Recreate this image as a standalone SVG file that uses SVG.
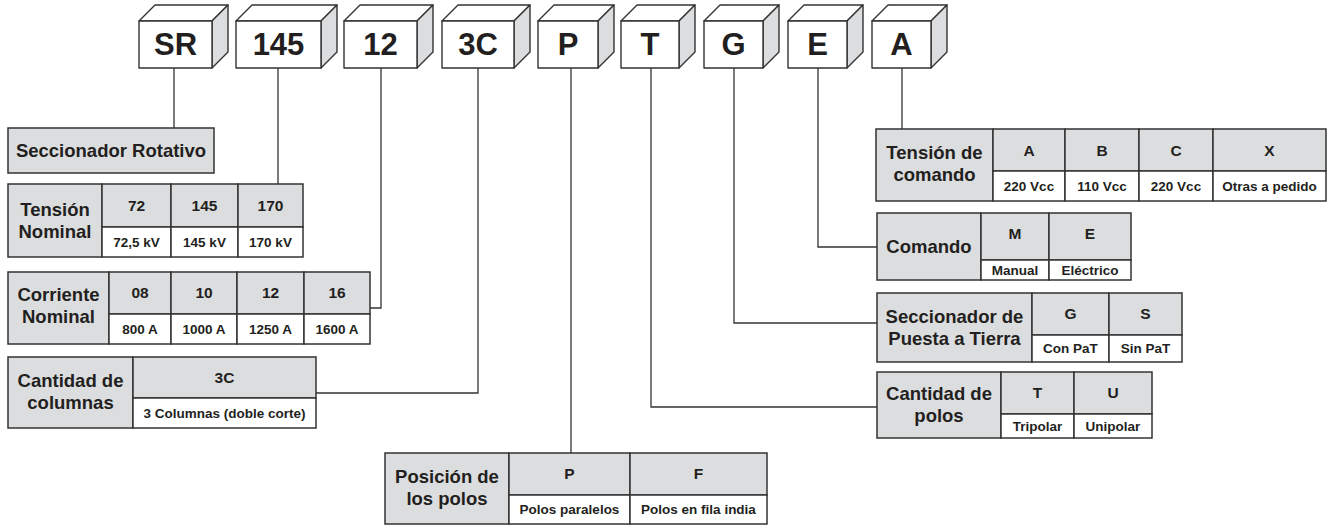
<svg xmlns="http://www.w3.org/2000/svg" width="1328" height="526" viewBox="0 0 1328 526">
<style>
text{font-family:"Liberation Sans",Arial,sans-serif;font-weight:bold;fill:#231f20;text-anchor:middle}
.front,.top{fill:#fff;stroke:#333;stroke-width:1.4;stroke-linejoin:round}
.side{fill:#dcdddf;stroke:#333;stroke-width:1.4;stroke-linejoin:round}
.big{font-size:31px}
.g{fill:#dcdddf;stroke:#333;stroke-width:1.5}
.w{fill:#fff;stroke:#333;stroke-width:1.5}
.t{font-size:18.5px}
.c{font-size:15.5px}
.l{font-size:13.5px}
.conn{fill:none;stroke:#333;stroke-width:1.3}
</style>

<g id="connectors">
<path class="conn" d="M174 68V128"/>
<path class="conn" d="M278 68V184"/>
<path class="conn" d="M381 68V308H370"/>
<path class="conn" d="M478 68V393H316"/>
<path class="conn" d="M571 68V453"/>
<path class="conn" d="M651 68V407H877"/>
<path class="conn" d="M734 68V323H877"/>
<path class="conn" d="M818 68V247H877"/>
<path class="conn" d="M902 68V129"/>
</g>

<g id="box-SR"><polygon class="top" points="139,21 212,21 228,5 155,5"/><polygon class="side" points="212,21 228,5 228,52 212,68"/><rect class="front" x="139" y="21" width="73" height="47"/><text class="big" x="175.5" y="55">SR</text></g>
<g id="box-145"><polygon class="top" points="236,21 321,21 337,5 252,5"/><polygon class="side" points="321,21 337,5 337,52 321,68"/><rect class="front" x="236" y="21" width="85" height="47"/><text class="big" x="278.5" y="55">145</text></g>
<g id="box-12"><polygon class="top" points="344,21 417,21 433,5 360,5"/><polygon class="side" points="417,21 433,5 433,52 417,68"/><rect class="front" x="344" y="21" width="73" height="47"/><text class="big" x="380.5" y="55">12</text></g>
<g id="box-3C"><polygon class="top" points="442,21 514,21 530,5 458,5"/><polygon class="side" points="514,21 530,5 530,52 514,68"/><rect class="front" x="442" y="21" width="72" height="47"/><text class="big" x="478" y="55">3C</text></g>
<g id="box-P"><polygon class="top" points="538,21 598,21 614,5 554,5"/><polygon class="side" points="598,21 614,5 614,52 598,68"/><rect class="front" x="538" y="21" width="60" height="47"/><text class="big" x="568" y="55">P</text></g>
<g id="box-T"><polygon class="top" points="621,21 679,21 695,5 637,5"/><polygon class="side" points="679,21 695,5 695,52 679,68"/><rect class="front" x="621" y="21" width="58" height="47"/><text class="big" x="650" y="55">T</text></g>
<g id="box-G"><polygon class="top" points="704,21 763,21 779,5 720,5"/><polygon class="side" points="763,21 779,5 779,52 763,68"/><rect class="front" x="704" y="21" width="59" height="47"/><text class="big" x="733.5" y="55">G</text></g>
<g id="box-E"><polygon class="top" points="788,21 847,21 863,5 804,5"/><polygon class="side" points="847,21 863,5 863,52 847,68"/><rect class="front" x="788" y="21" width="59" height="47"/><text class="big" x="817.5" y="55">E</text></g>
<g id="box-A"><polygon class="top" points="872,21 931,21 947,5 888,5"/><polygon class="side" points="931,21 947,5 947,52 931,68"/><rect class="front" x="872" y="21" width="59" height="47"/><text class="big" x="901.5" y="55">A</text></g>

<g id="seccionador-rotativo"><rect class="g" x="8" y="128" width="206" height="45"/><text class="t" x="111" y="157">Seccionador Rotativo</text></g>

<g id="tension-nominal">
<rect class="g" x="8" y="184" width="94" height="73"/>
<rect class="g" x="102" y="184" width="69" height="43"/><rect class="g" x="171" y="184" width="67" height="43"/><rect class="g" x="238" y="184" width="65" height="43"/>
<rect class="w" x="102" y="227" width="69" height="30"/><rect class="w" x="171" y="227" width="67" height="30"/><rect class="w" x="238" y="227" width="65" height="30"/>
<text class="t" x="55" y="216">Tensión</text><text class="t" x="55" y="238">Nominal</text>
<text class="c" x="136.5" y="211">72</text><text class="c" x="204.5" y="211">145</text><text class="c" x="270.5" y="211">170</text>
<text class="l" x="136.5" y="247">72,5 kV</text><text class="l" x="204.5" y="247">145 kV</text><text class="l" x="270.5" y="247">170 kV</text>
</g>

<g id="corriente-nominal">
<rect class="g" x="8" y="272" width="101" height="72"/>
<rect class="g" x="109" y="272" width="62" height="42"/><rect class="g" x="171" y="272" width="66" height="42"/><rect class="g" x="237" y="272" width="67" height="42"/><rect class="g" x="304" y="272" width="66" height="42"/>
<rect class="w" x="109" y="314" width="62" height="30"/><rect class="w" x="171" y="314" width="66" height="30"/><rect class="w" x="237" y="314" width="67" height="30"/><rect class="w" x="304" y="314" width="66" height="30"/>
<text class="t" x="58.5" y="301">Corriente</text><text class="t" x="58.5" y="323">Nominal</text>
<text class="c" x="140" y="298">08</text><text class="c" x="204" y="298">10</text><text class="c" x="270.5" y="298">12</text><text class="c" x="337" y="298">16</text>
<text class="l" x="140" y="334">800 A</text><text class="l" x="204" y="334">1000 A</text><text class="l" x="270.5" y="334">1250 A</text><text class="l" x="337" y="334">1600 A</text>
</g>

<g id="cantidad-columnas">
<rect class="g" x="8" y="357" width="125" height="71"/>
<rect class="g" x="133" y="357" width="183" height="41"/>
<rect class="w" x="133" y="398" width="183" height="30"/>
<text class="t" x="70.5" y="387">Cantidad de</text><text class="t" x="70.5" y="409">columnas</text>
<text class="c" x="224.5" y="383">3C</text>
<text class="l" x="224.5" y="418">3 Columnas (doble corte)</text>
</g>

<g id="posicion-polos">
<rect class="g" x="385" y="453" width="124" height="71"/>
<rect class="g" x="509" y="453" width="121" height="42"/><rect class="g" x="630" y="453" width="137" height="42"/>
<rect class="w" x="509" y="495" width="121" height="29"/><rect class="w" x="630" y="495" width="137" height="29"/>
<text class="t" x="447" y="483">Posición de</text><text class="t" x="447" y="505">los polos</text>
<text class="c" x="569.5" y="479">P</text><text class="c" x="698.5" y="479">F</text>
<text class="l" x="569.5" y="514">Polos paralelos</text><text class="l" x="698.5" y="514">Polos en fila india</text>
</g>

<g id="tension-comando">
<rect class="g" x="876" y="129" width="117" height="72"/>
<rect class="g" x="993" y="129" width="72" height="42"/><rect class="g" x="1065" y="129" width="74" height="42"/><rect class="g" x="1139" y="129" width="74" height="42"/><rect class="g" x="1213" y="129" width="113" height="42"/>
<rect class="w" x="993" y="171" width="72" height="30"/><rect class="w" x="1065" y="171" width="74" height="30"/><rect class="w" x="1139" y="171" width="74" height="30"/><rect class="w" x="1213" y="171" width="113" height="30"/>
<text class="t" x="934.5" y="159">Tensión de</text><text class="t" x="934.5" y="181">comando</text>
<text class="c" x="1029" y="156">A</text><text class="c" x="1102" y="156">B</text><text class="c" x="1176" y="156">C</text><text class="c" x="1269.5" y="156">X</text>
<text class="l" x="1029" y="191">220 Vcc</text><text class="l" x="1102" y="191">110 Vcc</text><text class="l" x="1176" y="191">220 Vcc</text><text class="l" x="1269.5" y="191">Otras a pedido</text>
</g>

<g id="comando">
<rect class="g" x="877" y="213" width="104" height="67"/>
<rect class="g" x="981" y="213" width="68" height="47"/><rect class="g" x="1049" y="213" width="82" height="47"/>
<rect class="w" x="981" y="260" width="68" height="20"/><rect class="w" x="1049" y="260" width="82" height="20"/>
<text class="t" x="929" y="253">Comando</text>
<text class="c" x="1015" y="239">M</text><text class="c" x="1090" y="239">E</text>
<text class="l" x="1015" y="275">Manual</text><text class="l" x="1090" y="275">Eléctrico</text>
</g>

<g id="seccionador-pat">
<rect class="g" x="877" y="293" width="155" height="69"/>
<rect class="g" x="1032" y="293" width="77" height="42"/><rect class="g" x="1109" y="293" width="73" height="42"/>
<rect class="w" x="1032" y="335" width="77" height="27"/><rect class="w" x="1109" y="335" width="73" height="27"/>
<text class="t" x="954.5" y="323">Seccionador de</text><text class="t" x="954.5" y="345">Puesta a Tierra</text>
<text class="c" x="1070.5" y="319">G</text><text class="c" x="1145.5" y="319">S</text>
<text class="l" x="1070.5" y="353">Con PaT</text><text class="l" x="1145.5" y="353">Sin PaT</text>
</g>

<g id="cantidad-polos">
<rect class="g" x="877" y="372" width="124" height="66"/>
<rect class="g" x="1001" y="372" width="73" height="42"/><rect class="g" x="1074" y="372" width="78" height="42"/>
<rect class="w" x="1001" y="414" width="73" height="24"/><rect class="w" x="1074" y="414" width="78" height="24"/>
<text class="t" x="939" y="400">Cantidad de</text><text class="t" x="939" y="422">polos</text>
<text class="c" x="1037.5" y="398">T</text><text class="c" x="1113" y="398">U</text>
<text class="l" x="1037.5" y="431">Tripolar</text><text class="l" x="1113" y="431">Unipolar</text>
</g>
</svg>
